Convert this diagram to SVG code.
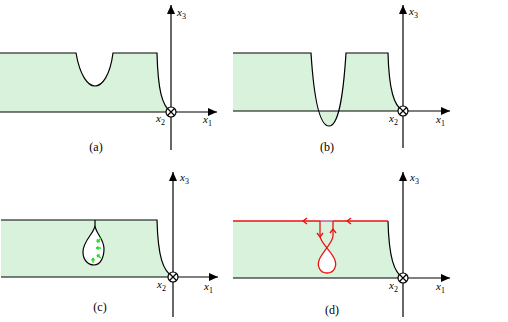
<svg xmlns="http://www.w3.org/2000/svg" width="508" height="322" viewBox="0 0 508 322">
<defs>
<marker id="ah" markerUnits="userSpaceOnUse" markerWidth="10" markerHeight="8" refX="9" refY="4" orient="auto">
<path d="M0,0 L9,4 L0,8 Z" fill="#000"/>
</marker>
<style>
.fill{fill:#d8f2dc;stroke:none}
.edge{fill:none;stroke:#000;stroke-width:1.2}
.axis{fill:none;stroke:#000;stroke-width:1.2;marker-end:url(#ah)}
.ax{fill:none;stroke:#000;stroke-width:1.2}
.circ{fill:#fff;stroke:#000;stroke-width:1.2}
text{font-family:'Liberation Serif','Times New Roman',serif;fill:#000}
.lab{font-size:11px;font-style:italic}
.sub{font-style:normal;font-size:8px}
.cap{font-size:12px;text-anchor:middle}
.red{fill:none;stroke:#ee1111;stroke-width:1.3}
.grn{fill:none;stroke:#22dd22;stroke-width:1.3}
</style>
</defs>

<!-- Panel (a) -->
<g id="panel-a">
<path class="fill" d="M0,53 H76 C80,76 88,86 95,86 C102,86 110,76 113,53 H157 C158,90 162,106 171,112 H0 Z"/>
<path class="edge" d="M0,53 H76 C80,76 88,86 95,86 C102,86 110,76 113,53 H157 C158,90 162,106 171,112"/>
<line class="axis" x1="0" y1="112" x2="217" y2="112"/>
<line class="axis" x1="171" y1="150" x2="171" y2="5"/>
<circle class="circ" cx="171" cy="112" r="5"/>
<path class="ax" d="M167.5,108.5 L174.5,115.5 M174.5,108.5 L167.5,115.5"/>
<text class="lab" x="177" y="16" font-family="Liberation Serif, serif">x<tspan class="sub" dy="3">3</tspan></text>
<text class="lab" x="156" y="122" font-family="Liberation Serif, serif">x<tspan class="sub" dy="3">2</tspan></text>
<text class="lab" x="203" y="123" font-family="Liberation Serif, serif">x<tspan class="sub" dy="3">1</tspan></text>
<text class="cap" x="96" y="151" font-family="Liberation Serif, serif">(a)</text>
</g>

<!-- Panel (b) -->
<g id="panel-b">
<path class="fill" d="M233,53 H311 C314,100 320,126 329,126 C338,126 343,100 346,53 H388 C389,90 394,106 403,111 H233 Z"/>
<path class="edge" d="M233,53 H311 C314,100 320,126 329,126 C338,126 343,100 346,53 H388 C389,90 394,106 403,111"/>
<line class="axis" x1="233" y1="111" x2="450" y2="111"/>
<line class="axis" x1="403" y1="148" x2="403" y2="5"/>
<circle class="circ" cx="403" cy="111" r="5"/>
<path class="ax" d="M399.5,107.5 L406.5,114.5 M406.5,107.5 L399.5,114.5"/>
<text class="lab" x="409" y="15" font-family="Liberation Serif, serif">x<tspan class="sub" dy="3">3</tspan></text>
<text class="lab" x="389" y="122" font-family="Liberation Serif, serif">x<tspan class="sub" dy="3">2</tspan></text>
<text class="lab" x="436" y="123" font-family="Liberation Serif, serif">x<tspan class="sub" dy="3">1</tspan></text>
<text class="cap" x="327" y="151" font-family="Liberation Serif, serif">(b)</text>
</g>

<!-- Panel (c) -->
<g id="panel-c">
<path class="fill" d="M1,220 H157 C158,257 163,271 173,277 H1 Z"/>
<path class="edge" d="M1,220 H157 C158,257 163,271 173,277"/>
<line class="axis" x1="1" y1="277" x2="218" y2="277"/>
<line class="axis" x1="173" y1="317" x2="173" y2="172"/>
<circle class="circ" cx="173" cy="277" r="5"/>
<path class="ax" d="M169.5,273.5 L176.5,280.5 M176.5,273.5 L169.5,280.5"/>
<path d="M95,220 V225 C95,233 83,240 83,252 C83,260 88,265 94,265 C100,265 104,258 104,249 C104,238 95,233 95,225" fill="#fff" stroke="#000" stroke-width="1.2"/>
<path class="grn" d="M101,238 L97,242 M97,242 L97.5,239 M97,242 L100,241.5"/>
<path class="grn" d="M101,248 L96,248 M96,248 L98.5,246.5 M96,248 L98.5,249.5"/>
<path class="grn" d="M101,258 L97,255 M97,255 L98,257.5 M97,255 L99.8,255"/>
<path class="grn" d="M93,263 L93,258 M93,258 L91.5,260.5 M93,258 L94.5,260.5"/>
<text class="lab" x="180" y="181" font-family="Liberation Serif, serif">x<tspan class="sub" dy="3">3</tspan></text>
<text class="lab" x="157" y="288" font-family="Liberation Serif, serif">x<tspan class="sub" dy="3">2</tspan></text>
<text class="lab" x="204" y="290" font-family="Liberation Serif, serif">x<tspan class="sub" dy="3">1</tspan></text>
<text class="cap" x="100" y="311" font-family="Liberation Serif, serif">(c)</text>
</g>

<!-- Panel (d) -->
<g id="panel-d">
<path class="fill" d="M233,221 H388 C389,258 394,272 403,278 H233 Z"/>
<path class="edge" d="M388,221 C389,258 394,272 403,278"/>
<line class="axis" x1="233" y1="278" x2="450" y2="278"/>
<line class="axis" x1="403" y1="317" x2="403" y2="172"/>
<circle class="circ" cx="403" cy="278" r="5"/>
<path class="ax" d="M399.5,274.5 L406.5,281.5 M406.5,274.5 L399.5,281.5"/>
<path d="M327,247 C330,251 333,254 334,258 C338,266 334,273 327,273 C320,273 316,266 320,258 C321,254 324,251 327,247 Z" fill="#fff" stroke="none"/>
<path class="red" d="M233,221 H320 M333,221 H388"/>
<line x1="320" y1="221" x2="333" y2="221" stroke="#b04a8a" stroke-width="1.3"/>
<path class="red" d="M307,218 L303,221 L307,224 M351,218 L347,221 L351,224"/>
<path class="red" d="M320,221 V236 C320,242 330,250 334,258 C338,266 334,273 327,273 C320,273 316,266 320,258 C324,250 333,242 333,236 V221"/>
<path class="red" d="M317,233 L320,237 L323,233 M330,233 L333,229 L336,233"/>
<text class="lab" x="410" y="181" font-family="Liberation Serif, serif">x<tspan class="sub" dy="3">3</tspan></text>
<text class="lab" x="389" y="289" font-family="Liberation Serif, serif">x<tspan class="sub" dy="3">2</tspan></text>
<text class="lab" x="436" y="290" font-family="Liberation Serif, serif">x<tspan class="sub" dy="3">1</tspan></text>
<text class="cap" x="332" y="314" font-family="Liberation Serif, serif">(d)</text>
</g>
</svg>
